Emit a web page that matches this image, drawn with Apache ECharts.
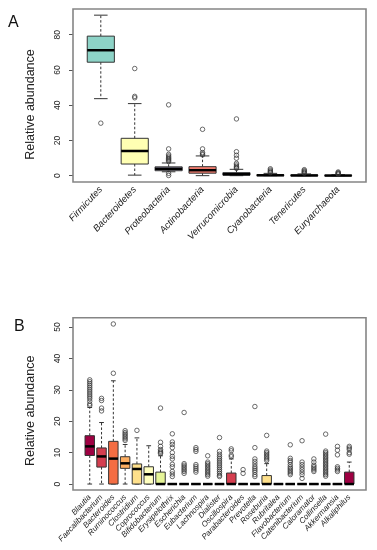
<!DOCTYPE html>
<html>
<head>
<meta charset="utf-8">
<script src="https://cdn.jsdelivr.net/npm/echarts@6/dist/echarts.min.js"></script>
<style>html,body{margin:0;padding:0;background:#fff}#c{width:377px;height:550px}</style>
</head>
<body>
<div id="c"></div>
<script>
// ---------- Panel A: phyla ----------
var phylaNames = ['Firmicutes','Bacteroidetes','Proteobacteria','Actinobacteria','Verrucomicrobia','Cyanobacteria','Tenericutes','Euryarchaeota'];
var phylaMin = [43.7, 0.3, 2.2, 0.0, 0.0, 0.0, 0.0, 0.0];
var phylaQ1  = [64.4, 6.6, 2.8, 1.4, 0.3, 0.05, 0.02, 0.0];
var phylaMed = [71.2, 14.0, 3.9, 3.1, 0.8, 0.2, 0.1, 0.05];
var phylaQ3  = [79.2, 21.2, 5.0, 5.1, 1.7, 0.5, 0.4, 0.2];
var phylaMax = [91.1, 40.9, 7.2, 11.2, 3.6, 1.3, 1.0, 0.5];
var phylaOutliers = [
  [29.8],
  [60.8, 45.0, 44.2],
  [40.2, 15.2, 12.1, 11.2, 10.5, 9.8, 9.2, 8.6, 8.0, 1.3, 0.1],
  [26.3, 15.2, 13.1, 12.3, 11.8],
  [32.2, 13.6, 11.6, 9.9, 7.0, 6.1, 5.3, 4.6, 4.1],
  [3.9, 3.2, 2.6, 2.1, 1.7],
  [3.4, 2.8, 2.3, 1.8, 1.4],
  [2.1, 1.7, 1.3, 1.0, 0.8]
];
var phylaTicks = [0, 20, 40, 60, 80];

// ---------- Panel B: genera ----------
var genusNames = ['Blautia','Faecalibacterium','Bacteroides','Ruminococcus','Clostridium','Coprococcus','Bifidobacterium','Erysipelothrix','Escherichia','Eubacterium','Lachnospira','Dialister','Oscillospira','Parabacteroides','Prevotella','Roseburia','Rubritalea','Flavobacterium','Catenibacterium','Caloramator','Collinsella','Akkermansia','Alkaliphilus'];
var genusMin = [0,0,0,0,0,0,0,0,0,0,0,0,0,0,0,0,0,0,0,0,0,0,0];
var genusQ1  = [9.1,5.4,0,5.0,0,0,0,0,0,0,0,0,0,0,0,0,0,0,0,0,0,0,0];
var genusMed = [12.0,8.8,8.1,6.6,4.8,3.1,0,0,0,0,0,0,0,0,0,0,0,0,0,0,0,0,0];
var genusQ3  = [15.4,11.5,13.6,8.7,6.4,5.5,3.8,0,0,0,0,0,3.5,0,0,2.7,0,0,0,0,0,0,3.8];
var genusMax = [24.4,19.6,32.9,12.6,14.7,12.2,9.0,0,0,0,0,0,8.0,0,0,6.5,0,0,0,0,0,0,7.0];
var genusOutliers = [
  [33.2, 32.6, 32.0, 31.4, 30.8, 30.2, 29.6, 29.0, 28.4, 27.8, 27.2, 26.4, 25.5, 25.0],
  [27.3, 26.6, 24.2, 23.3],
  [51.0, 35.3],
  [17.0, 16.4, 15.9, 15.4, 14.9, 14.4, 13.9],
  [17.1],
  [],
  [24.2, 13.3, 12.0, 11.0, 10.5, 10.1, 9.7],
  [16.0, 13.4, 12.6, 11.6, 10.0, 8.8, 8.0, 6.3, 5.5, 4.0, 3.2, 2.4],
  [22.8, 6.5, 6.0, 5.5, 5.0, 4.5, 4.0, 3.4],
  [11.6, 11.0, 10.4, 6.2, 5.6, 5.0, 4.4, 3.8],
  [9.0, 7.0, 6.5, 6.0, 5.5, 5.0, 4.5, 4.0, 3.5, 3.0, 2.5],
  [14.8, 10.4, 9.5, 8.8, 8.2, 7.6, 7.0, 6.4, 5.8, 5.2, 4.6, 4.0, 3.4, 2.8, 2.4],
  [11.2, 10.6, 9.2, 8.7],
  [4.6, 3.4],
  [24.7, 11.6, 8.0, 7.2, 6.4, 5.6, 5.0, 4.4, 3.8, 3.0, 2.4],
  [15.5, 10.5, 10.0, 9.5, 9.0, 8.5, 8.0, 7.5],
  [],
  [12.5, 8.2, 7.5, 7.0, 6.2, 5.5, 5.0, 4.5, 4.0, 3.5, 3.0],
  [13.8, 7.0, 6.2, 5.4, 4.6, 3.8, 3.0, 1.8],
  [8.0, 7.0, 6.0, 5.5, 5.0, 4.5, 4.0],
  [15.9, 10.5, 10.0, 9.5, 9.0, 8.5, 8.0, 7.5, 7.0, 6.5, 6.0, 5.5, 5.0, 4.5, 4.0, 3.5, 3.0, 2.5],
  [12.0, 10.8, 9.3, 5.5, 5.0, 4.5, 4.0],
  [12.0, 11.5, 11.0, 10.0, 9.5]
];
var genusTicks = [0, 10, 20, 30, 40, 50];

// ---------- styles ----------
var paletteA = ['#8dd3c7','#ffffb3','#bebada','#fb8072','#80b1d3','#fdb462','#b3de69','#fccde5'];
var paletteB = ['#9e0142','#d53e4f','#f46d43','#fdae61','#fee08b','#ffffbf','#e6f598','#abdda4','#66c2a5','#3288bd','#5e4fa2'];

function boxData(mn, q1, md, q3, mx) {
  return mn.map(function (v, i) { return [i, mn[i], q1[i], md[i], q3[i], mx[i]]; });
}
function outlierData(outs) {
  var d = [];
  outs.forEach(function (arr, i) { arr.forEach(function (v) { d.push([i, v]); }); });
  return d;
}
function makeRender(palette) {
  return function (params, api) {
    var x = api.value(0);
    var mn = api.value(1), q1 = api.value(2), md = api.value(3), q3 = api.value(4), mx = api.value(5);
    var bw = api.size([1, 0])[0] * 0.8;
    var cx = api.coord([x, 0])[0];
    var yMn = api.coord([x, mn])[1], yQ1 = api.coord([x, q1])[1], yMd = api.coord([x, md])[1];
    var yQ3 = api.coord([x, q3])[1], yMx = api.coord([x, mx])[1];
    var col = palette[params.dataIndex % palette.length];
    var lineCol = '#333';
    var ch = [];
    if (mx > q3) {
      ch.push({type: 'line', shape: {x1: cx, y1: yQ3, x2: cx, y2: yMx}, style: {stroke: lineCol, lineWidth: 1, lineDash: [2.5, 2]}});
    }
    if (mn < q1) {
      ch.push({type: 'line', shape: {x1: cx, y1: yQ1, x2: cx, y2: yMn}, style: {stroke: lineCol, lineWidth: 1, lineDash: [2.5, 2]}});
    }
    ch.push({type: 'line', shape: {x1: cx - bw / 4, y1: yMx, x2: cx + bw / 4, y2: yMx}, style: {stroke: lineCol, lineWidth: 1}});
    ch.push({type: 'line', shape: {x1: cx - bw / 4, y1: yMn, x2: cx + bw / 4, y2: yMn}, style: {stroke: lineCol, lineWidth: 1}});
    ch.push({type: 'rect', shape: {x: cx - bw / 2, y: yQ3, width: bw, height: Math.max(yQ1 - yQ3, 0.01)}, style: {fill: col, stroke: lineCol, lineWidth: 1}});
    ch.push({type: 'line', shape: {x1: cx - bw / 2, y1: yMd, x2: cx + bw / 2, y2: yMd}, style: {stroke: '#000', lineWidth: 2.5}});
    return {type: 'group', children: ch};
  };
}

var FONT = '"Liberation Sans", Arial, Helvetica, sans-serif';
var frameCol = '#858585';

var chart = echarts.init(document.getElementById('c'), null, {renderer: 'canvas'});
chart.setOption({
  animation: false,
  backgroundColor: '#fff',
  title: [
    {text: 'A', left: 8, top: 15, padding: 0, textStyle: {fontFamily: FONT, fontSize: 16, fontWeight: 'normal', color: '#111'}},
    {text: 'B', left: 14, top: 319, padding: 0, textStyle: {fontFamily: FONT, fontSize: 16, fontWeight: 'normal', color: '#111'}}
  ],
  grid: [
    {left: 83.85, top: 9, width: 271.3, height: 173, outerBoundsMode: 'none'},
    {left: 83.85, top: 317.7, width: 271.3, height: 172.3, outerBoundsMode: 'none'}
  ],
  graphic: [
    {type: 'rect', shape: {x: 73, y: 9, width: 293, height: 173}, style: {fill: 'none', stroke: frameCol, lineWidth: 1.6}, z: 10},
    {type: 'rect', shape: {x: 73, y: 317.7, width: 293, height: 172.3}, style: {fill: 'none', stroke: frameCol, lineWidth: 1.6}, z: 10}
  ],
  xAxis: [
    {type: 'category', gridIndex: 0, data: phylaNames, boundaryGap: true,
     axisLine: {show: false}, axisTick: {show: false}, splitLine: {show: false},
     axisLabel: {interval: 0, rotate: 47, margin: 6, hideOverlap: false, fontFamily: FONT, fontStyle: 'italic', fontSize: 9.5, color: '#222'}},
    {type: 'category', gridIndex: 1, data: genusNames, boundaryGap: true,
     axisLine: {show: false}, axisTick: {show: false}, splitLine: {show: false},
     axisLabel: {interval: 0, rotate: 47, margin: 6, hideOverlap: false, fontFamily: FONT, fontStyle: 'italic', fontSize: 8, color: '#222'}}
  ],
  yAxis: [
    {type: 'value', gridIndex: 0, min: -3.6, max: 94.6, offset: 10.85,
     name: 'Relative abundance', nameLocation: 'middle', nameGap: 36,
     nameTextStyle: {fontFamily: FONT, fontSize: 12.5, color: '#222', padding: [0, 18, 0, 0]},
     axisLine: {show: false}, splitLine: {show: false},
     axisTick: {show: true, length: 4, customValues: phylaTicks, lineStyle: {color: '#555'}},
     axisLabel: {rotate: 90, margin: 11, customValues: phylaTicks, fontFamily: FONT, fontSize: 8.5, color: '#222'}},
    {type: 'value', gridIndex: 1, min: -1.9, max: 53.0, offset: 10.85,
     name: 'Relative abundance', nameLocation: 'middle', nameGap: 36,
     nameTextStyle: {fontFamily: FONT, fontSize: 12.5, color: '#222', padding: [0, 14, 0, 0]},
     axisLine: {show: false}, splitLine: {show: false},
     axisTick: {show: true, length: 4, customValues: genusTicks, lineStyle: {color: '#555'}},
     axisLabel: {rotate: 90, margin: 11, customValues: genusTicks, fontFamily: FONT, fontSize: 8.5, color: '#222'}}
  ],
  series: [
    {type: 'custom', xAxisIndex: 0, yAxisIndex: 0, renderItem: makeRender(paletteA),
     data: boxData(phylaMin, phylaQ1, phylaMed, phylaQ3, phylaMax), encode: {x: 0, y: [1, 2, 3, 4, 5]}, z: 2},
    {type: 'scatter', xAxisIndex: 0, yAxisIndex: 0, data: outlierData(phylaOutliers), symbol: 'circle', symbolSize: 4.5,
     itemStyle: {color: 'rgba(0,0,0,0)', borderColor: '#333', borderWidth: 0.9}, z: 3},
    {type: 'custom', xAxisIndex: 1, yAxisIndex: 1, renderItem: makeRender(paletteB),
     data: boxData(genusMin, genusQ1, genusMed, genusQ3, genusMax), encode: {x: 0, y: [1, 2, 3, 4, 5]}, z: 2},
    {type: 'scatter', xAxisIndex: 1, yAxisIndex: 1, data: outlierData(genusOutliers), symbol: 'circle', symbolSize: 4.5,
     itemStyle: {color: 'rgba(0,0,0,0)', borderColor: '#333', borderWidth: 0.9}, z: 3}
  ]
});
</script>
</body>
</html>
